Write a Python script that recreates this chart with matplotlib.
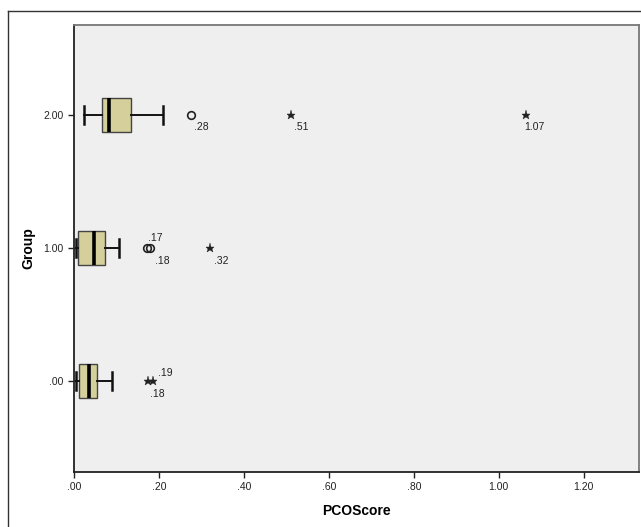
import matplotlib as mpl
mpl.use("Agg")
import matplotlib.pyplot as plt
from matplotlib.lines import Line2D

plt.rcParams["font.family"] = ["Liberation Sans", "DejaVu Sans"]

# box statistics (PCOScore by group)
GROUPS = [0.0, 1.0, 2.0]
WHISK_LO = [0.004, 0.004, 0.024]
Q1 = [0.012, 0.009, 0.065]
MED = [0.035, 0.046, 0.083]
Q3 = [0.053, 0.073, 0.133]
WHISK_HI = [0.089, 0.105, 0.209]

# outliers: group, value, kind ('o' mild, '*' extreme), label
OUT_GROUP = [2.0, 2.0, 2.0, 1.0, 1.0, 1.0, 0.0, 0.0]
OUT_VALUE = [0.275, 0.51, 1.065, 0.172, 0.180, 0.32, 0.175, 0.185]
OUT_KIND = ["o", "*", "*", "o", "o", "*", "*", "*"]
OUT_LABEL = [".28", ".51", "1.07", ".17", ".18", ".32", ".18", ".19"]

XTICKS = [0.0, 0.2, 0.4, 0.6, 0.8, 1.0, 1.2]
XTICKLABELS = [".00", ".20", ".40", ".60", ".80", "1.00", "1.20"]
YTICKLABELS = [".00", "1.00", "2.00"]

# label offsets in pixels (style only)
LBL_OFF = [(3, -12), (3, -12), (-2, -12), (1, 10), (5, -13), (4, -13), (2, -13), (5, 8)]

fig = plt.figure(figsize=(6.41, 5.27), dpi=100)
ax = fig.add_axes([74 / 641, 1 - 472 / 527, 565 / 641, 447 / 527])
ax.set_facecolor("#efefef")

stats = []
for i in range(len(GROUPS)):
    stats.append(dict(whislo=WHISK_LO[i], q1=Q1[i], med=MED[i], q3=Q3[i],
                      whishi=WHISK_HI[i], fliers=[]))
ax.bxp(stats, positions=GROUPS, vert=False, widths=0.26, capwidths=0.13,
       showfliers=False, patch_artist=True,
       boxprops=dict(facecolor="#d4cf9b", edgecolor="#444444", lw=1.0),
       medianprops=dict(color="black", lw=2.6),
       whiskerprops=dict(color="#111111", lw=1.4),
       capprops=dict(color="#111111", lw=1.8))

for g, v, k, lab, off in zip(OUT_GROUP, OUT_VALUE, OUT_KIND, OUT_LABEL, LBL_OFF):
    if k == "o":
        ax.plot(v, g, "o", ms=5.5, mfc="none", mec="#222222", mew=1.2)
    else:
        ax.plot(v, g, "*", ms=6.5, color="#222222", mew=0.3)
    ax.annotate(lab, (v, g), xytext=off, textcoords="offset pixels",
                ha="left", va="center", fontsize=7.5, color="#222222")

ax.set_xlim(0, 1.33)
ax.set_ylim(-0.684, 2.677)
ax.set_xticks(XTICKS)
ax.set_xticklabels(XTICKLABELS)
ax.set_yticks(GROUPS)
ax.set_yticklabels(YTICKLABELS)
ax.tick_params(labelsize=7.5, colors="#222222", length=4, width=1.0)
ax.set_xlabel("PCOScore", fontsize=10, fontweight="bold", labelpad=8)
ax.set_ylabel("Group", fontsize=10, fontweight="bold", labelpad=6)

for s in ["left", "bottom"]:
    ax.spines[s].set_color("#222222")
    ax.spines[s].set_linewidth(1.3)
for s in ["top", "right"]:
    ax.spines[s].set_color("#777777")
    ax.spines[s].set_linewidth(1.3)

# outer frame of the chart
fig.add_artist(Line2D([8 / 641, 1.0], [1 - 10.5 / 527] * 2, color="#333333", lw=1.0))
fig.add_artist(Line2D([8 / 641] * 2, [0.0, 1 - 10.5 / 527], color="#333333", lw=1.0))

fig.savefig("out.png", dpi=100, facecolor="white")
